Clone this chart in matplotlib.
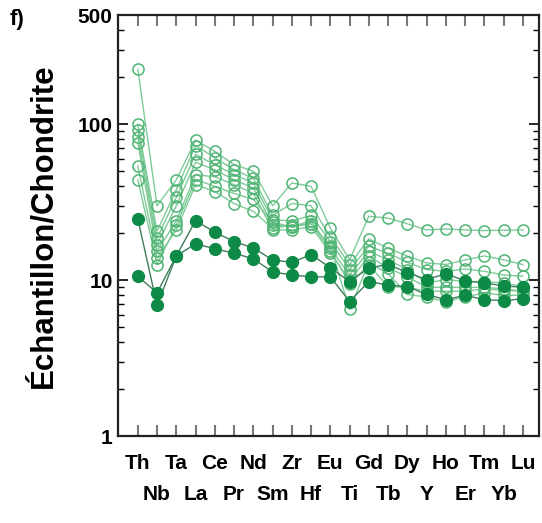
import matplotlib
matplotlib.use('Agg')
import matplotlib.pyplot as plt
from matplotlib.ticker import FixedLocator, NullFormatter

plt.rcParams['font.family'] = ['Liberation Sans', 'DejaVu Sans']

elements = ['Th', 'Nb', 'Ta', 'La', 'Ce', 'Pr', 'Nd', 'Sm', 'Zr', 'Hf', 'Eu',
            'Ti', 'Gd', 'Tb', 'Dy', 'Y', 'Ho', 'Er', 'Tm', 'Yb', 'Lu']

# open symbols (chondrite-normalised)
open_1 = [225, 30, 44, 79, 67, 55, 50, 30, 42, 40, 21.6, 13.5, 25.7, 25, 23, 21, 21.3, 21, 20.8, 20.9, 21]
open_2 = [100, 20.6, 38, 73, 61, 51, 45, 26, 31, 30, 19, 12.6, 18.4, 16, 14.3, 12.9, 12.6, 13.5, 14.3, 13.5, 12.6]
open_3 = [92, 18.6, 34, 64, 55, 47.5, 42, 24.4, 24, 26, 17.7, 11.7, 16.5, 14.9, 13, 11.7, 11.4, 11.8, 11.4, 10.8, 10.6]
open_4 = [83, 16.9, 30, 57, 51, 44, 39, 22.7, 22, 24, 16, 10.8, 15.3, 13.5, 11.7, 9.6, 10.1, 9.8, 9.8, 9.6, 9.1]
open_5 = [76, 15.3, 24, 47.5, 46, 41, 36, 21, 21, 22, 15, 10, 14.2, 12, 10.5, 9, 9, 9, 9, 8.8, 8.5]
open_6 = [54, 13.9, 21, 41, 37, 31, 27.6, 21.5, 22.5, 23, 16.5, 6.5, 13, 11, 8.1, 7.8, 7.3, 7.8, 8.3, 8, 8]
open_7 = [44, 12.6, 22.5, 44, 40, 36, 33, 23.5, 22, 23, 15.5, 9.5, 12.5, 9.1, 9, 8.5, 8.5, 8.5, 8.8, 8.6, 8.5]

# filled symbols
full_1 = [24.8, 6.9, 14.3, 24.1, 20.3, 17.7, 16.1, 13.5, 13, 14.6, 12, 9.8, 12, 12.6, 11.2, 10.1, 11, 9.9, 9.6, 9.2, 9]
full_2 = [10.6, 8.3, 14.3, 17.1, 15.9, 14.9, 13.7, 11.3, 10.8, 10.5, 10.5, 7.3, 9.8, 9.3, 9.1, 8.1, 7.5, 8, 7.5, 7.4, 7.6]

open_series = [open_1, open_2, open_3, open_4, open_5, open_6, open_7]
full_series = [full_1, full_2]

fig = plt.figure(figsize=(5.42, 5.23), dpi=100)
ax = fig.add_axes([0.218, 0.166, 0.777, 0.805])

x = list(range(len(elements)))
for s in open_series:
    ax.plot(x, s, '-', color='#7fcb98', lw=1.0, zorder=2)
    ax.plot(x, s, 'o', mfc='none', mec='#4fb474', mew=1.1, ms=8, zorder=3)
for s in full_series:
    ax.plot(x, s, '-', color='#3f7d5a', lw=1.0, zorder=4)
    ax.plot(x, s, 'o', color='#0d8a45', ms=8.5, zorder=5)

ax.set_yscale('log')
ax.set_ylim(1, 500)
ax.set_xlim(-1.02, 20.85)

ax.yaxis.set_major_locator(FixedLocator([1, 10, 100, 500]))
ax.set_yticklabels(['1', '10', '100', '500'])
minors = [m * d for d in (1, 10, 100) for m in range(2, 10) if m * d < 500]
ax.yaxis.set_minor_locator(FixedLocator(minors))
ax.yaxis.set_minor_formatter(NullFormatter())

# two rows of element names: even ones on major ticks, odd ones on minor ticks
even = x[0::2]
odd = x[1::2]
ax.xaxis.set_major_locator(FixedLocator(even))
ax.xaxis.set_minor_locator(FixedLocator(odd))
ax.set_xticklabels(elements[0::2])
ax.set_xticklabels(elements[1::2], minor=True)
ax.tick_params(axis='x', which='both', direction='in', length=8, width=1.5,
               color='#777777', top=True, labelsize=15)
ax.tick_params(axis='x', which='major', pad=13)
ax.tick_params(axis='x', which='minor', pad=35)
for lab in ax.get_xticklabels(which='both'):
    lab.set_fontweight('bold')

ax.tick_params(axis='y', which='major', direction='in', length=7, width=1.2,
               right=True, labelsize=15, pad=4)
ax.tick_params(axis='y', which='minor', direction='in', length=4, width=1.0,
               right=True)
for lab in ax.get_yticklabels():
    lab.set_fontweight('bold')

for sp in ax.spines.values():
    sp.set_linewidth(1.6)
    sp.set_color('#222222')

ax.set_ylabel('Échantillon/Chondrite', fontsize=22.5, fontweight='bold', labelpad=14)
fig.text(0.018, 0.953, 'f)', fontsize=16, fontweight='bold')

fig.savefig('out.png', dpi=100)
